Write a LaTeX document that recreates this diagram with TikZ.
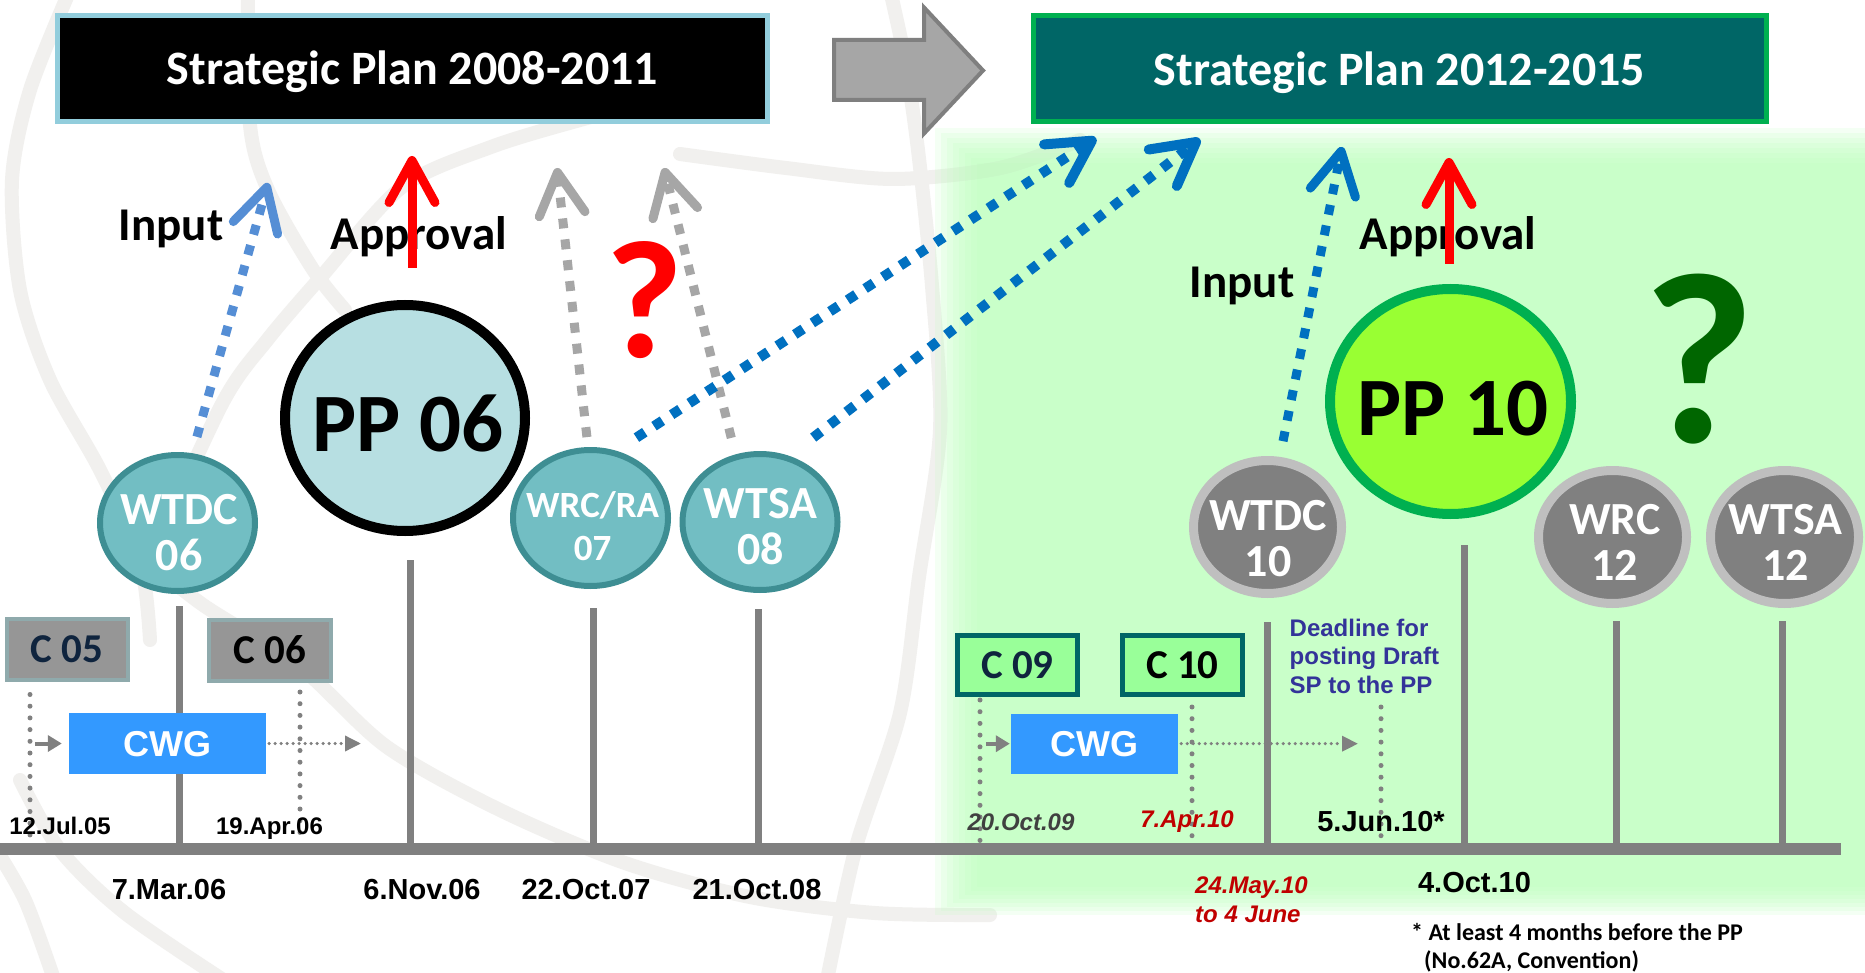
\documentclass[tikz,border=0pt]{standalone}
\usepackage{fontspec}
\setmainfont{Carlito}
\newfontfamily\arialfont{Liberation Sans}
\usepackage{xcolor}
\usepackage{tikz}
\usetikzlibrary{arrows.meta, shapes.geometric, calc}

\definecolor{wmgray}{RGB}{241,240,238}
\definecolor{bggreen}{RGB}{187,255,187}
\definecolor{tealfill}{RGB}{114,190,195}
\definecolor{tealline}{RGB}{62,142,147}
\definecolor{ppblue}{RGB}{183,223,226}
\definecolor{spblue}{RGB}{146,205,220}
\definecolor{spteal}{RGB}{0,102,102}
\definecolor{spgreen}{RGB}{0,176,80}
\definecolor{blockgray}{RGB}{166,166,166}
\definecolor{blockline}{RGB}{127,127,127}
\definecolor{inblue}{RGB}{85,142,213}
\definecolor{darkblue}{RGB}{0,112,192}
\definecolor{stemgray}{RGB}{128,128,128}
\definecolor{limegreen}{RGB}{153,255,51}
\definecolor{qgreen}{RGB}{0,102,0}
\definecolor{ringgray}{RGB}{191,191,191}
\definecolor{cgray}{RGB}{150,150,150}
\definecolor{cgrayline}{RGB}{143,170,172}
\definecolor{cnavy}{RGB}{15,36,62}
\definecolor{cgreen}{RGB}{153,255,153}
\definecolor{cwgblue}{RGB}{51,153,255}
\definecolor{deadblue}{RGB}{51,51,153}
\definecolor{darkred}{RGB}{192,0,0}
\definecolor{dategray}{RGB}{64,64,64}

\begin{document}
\begin{tikzpicture}[x=1pt, y=-1pt,
    plan/.style={draw, line width=5pt, minimum width=710pt, minimum height=106pt, text=white,
      font=\bfseries\fontsize{48}{58}\selectfont, text height=34pt, text depth=1.4pt},
    tealcirc/.style={ellipse, draw=tealline, fill=tealfill, line width=6pt,
      minimum width=155pt, minimum height=136pt},
    graycirc/.style={ellipse, draw=ringgray, fill=stemgray, line width=9pt,
      minimum width=148pt, minimum height=133pt},
    ppcirc/.style={ellipse, line width=10pt, minimum width=240pt, minimum height=226pt},
    pplabel/.style={font=\bfseries\fontsize{83}{90}\selectfont, anchor=base, inner sep=0pt},
    circtext/.style={align=center, text=white, inner sep=0pt,
      font=\bfseries\fontsize{46}{45.5}\selectfont},
    cbox/.style={draw, line width=4pt, minimum width=121pt, minimum height=61pt,
      font=\bfseries\fontsize{41}{45}\selectfont, text height=26.4pt, text depth=0pt},
    cwg/.style={fill=cwgblue, text=white, minimum width=197pt, minimum height=61pt,
      font=\arialfont\bfseries\fontsize{36}{40}\selectfont, text height=25.8pt, text depth=0pt},
    date/.style={font=\arialfont\bfseries\fontsize{29}{32}\selectfont, anchor=base, inner sep=0pt},
    smalldate/.style={date, font=\arialfont\bfseries\fontsize{24}{28}\selectfont},
    itdate/.style={date, font=\arialfont\bfseries\itshape\fontsize{24}{28}\selectfont},
    note/.style={anchor=base west, inner sep=0pt, font=\bfseries\fontsize{24}{28}\selectfont},
    word/.style={font=\bfseries\fontsize{47}{52}\selectfont, anchor=base, inner sep=0pt},
    qmark/.style={font=\bfseries\fontsize{168}{170}\selectfont, anchor=base, inner sep=0pt},
    stem/.style={draw=stemgray, line width=7pt},
    datedots/.style={draw=stemgray, line width=5pt, line cap=round, dash pattern=on 0pt off 11.7pt},
    feed/.style={draw=stemgray, line width=4pt, -{Triangle[length=14pt,width=16pt]}},
    flow/.style={draw=stemgray, line width=3.5pt, line cap=round, dash pattern=on 0pt off 6pt,
      -{Triangle[length=16pt,width=15pt]}},
    barb/.style={-{Straight Barb[length=42pt,width=46pt,round]}},
    dotarrow/.style={barb, line width=9pt, dash pattern=on 10pt off 11pt},
    approve/.style={barb, draw=red, line width=9pt}]

  \useasboundingbox (0,0) rectangle (1865,973);
  \fill[white] (0,0) rectangle (1865,973);

  % watermark
  \begin{scope}[wmgray, line width=14pt, line cap=round]
    \draw plot[smooth] coordinates {(70,-10) (30,90) (12,180) (20,290) (50,380) (100,470) (140,560) (150,640)};
    \draw plot[smooth] coordinates {(248,-10) (250,125) (268,190) (312,268) (345,310)};
    \draw plot[smooth] coordinates {(150,560) (223,402) (268,339) (321,277) (402,187) (491,147) (580,120) (660,100) (760,90)};
    \draw plot[smooth] coordinates {(890,-10) (905,60) (918,150) (932,286) (940,430) (919,577) (900,713) (856,847) (825,990)};
    \draw plot[smooth] coordinates {(680,154) (786,168) (893,179) (1000,168) (1080,140)};
    \draw plot[smooth] coordinates {(165,575) (206,607) (300,667) (387,747) (500,810) (625,863) (750,897) (875,913) (990,915)};
    \draw plot[smooth] coordinates {(-10,840) (25,900) (56,985)};
    \draw plot[smooth] coordinates {(231,985) (125,913) (60,850) (20,780)};
  \end{scope}

  % green background
  \foreach \i in {0,...,7}
    \fill[bggreen, opacity=0.16] (935+6*\i,128+5*\i) rectangle (1865,915-4*\i);

  % strategic plans
  \node[plan, draw=spblue, fill=black] (sp08) at (412.5,68.7) {Strategic Plan 2008-2011};
  \node[plan, draw=spgreen, fill=spteal, minimum width=733pt] (sp12) at (1399.5,68.8) {Strategic Plan 2012-2015};
  \draw[fill=blockgray, draw=blockline, line width=4pt]
    (834,40) -- (924,40) -- (924,7.5) -- (983,70.5) -- (924,133.5) -- (924,100) -- (834,100) -- cycle;

  % conferences
  \node[tealcirc] (wtdc06) at (177.5,523) {};
  \node[ppcirc, draw=black, fill=ppblue] (pp06) at (405,418) {};
  \node[tealcirc] (wrcra07) at (590.5,518) {};
  \node[tealcirc] (wtsa08) at (760,522) {};
  \node[graycirc] (wtdc10) at (1267.5,527) {};
  \node[ppcirc, draw=spgreen, fill=limegreen, minimum width=241pt, minimum height=225pt] (pp10) at (1450.5,401.5) {};
  \node[graycirc] (wrc12) at (1612.5,537) {};
  \node[graycirc] (wtsa12) at (1784.5,537) {};

  \node[circtext] (wtdc06-t) at (179,532.5) {WTDC\\06};
  \node[circtext, font=\bfseries\fontsize{37}{43.4}\selectfont] (wrcra07-t) at (592.6,526) {WRC/RA\\07};
  \node[circtext] (wtsa08-t) at (760.5,526.5) {WTSA\\08};
  \node[circtext] (wtdc10-t) at (1268,538.5) {WTDC\\10};
  \node[circtext] (wrc12-t) at (1614.8,542.5) {WRC\\12};
  \node[circtext] (wtsa12-t) at (1785.5,542.5) {WTSA\\12};
  \node[pplabel] (pp06-t) at (408,451) {PP 06};
  \node[pplabel] (pp10-t) at (1453,435) {PP 10};

  % timeline
  \coordinate (barL) at (0,849);
  \coordinate (barR) at (1841,849);
  \foreach \nd/\gap/\sh in {wtdc06/12/1.5, pp06/24/5, wrcra07/19/2.5, wtsa08/16/-2, wtdc10/24/0, pp10/26/13.5, wrc12/13/3.5, wtsa12/13/-2.5}
    \draw[stem] let \p1=(\nd.south), \p2=(barL) in (\x1+\sh pt,\y1-\gap pt) -- (\x1+\sh pt,\y2);
  \draw[stemgray, line width=12pt] (barL) -- (barR);

  % council and working group
  \node[cbox, draw=cgrayline, fill=cgray, text=cnavy] (c05) at (67.25,649) {C 05};
  \node[cbox, draw=cgrayline, fill=cgray, minimum width=121.6pt] (c06) at (269.8,650.5) {C 06};
  \node[cbox, draw=spteal, fill=cgreen, text=cnavy, line width=5pt, minimum width=120pt, minimum height=59pt] (c09) at (1017.5,665) {C 09};
  \node[cbox, draw=spteal, fill=cgreen, line width=5pt, minimum width=120pt, minimum height=59pt] (c10) at (1182.5,665) {C 10};
  \node[cwg] (cwgL) at (167.5,743.5) {CWG};
  \node[cwg, minimum width=167pt, minimum height=60pt] (cwgR) at (1094.5,743.7) {CWG};

  \coordinate (d1) at (30,849);
  \coordinate (d2) at (300,849);
  \coordinate (d3) at (980,849);
  \coordinate (d4) at (1192,849);
  \coordinate (d5) at (1381,849);
  \draw[datedots, shorten <=13pt, shorten >=8pt] (d1 |- c05.south) -- (d1);
  \draw[datedots, shorten <=9pt, shorten >=8pt] (d2 |- c06.south) -- (d2);
  \draw[datedots, shorten <=3pt, shorten >=8pt] (d3 |- c09.south) -- (d3);
  \draw[datedots, shorten <=10pt, shorten >=8pt] (d4 |- c10.south) -- (d4);
  \draw[datedots, shorten <=10pt, shorten >=8pt] (d5 |- c10.south) -- (d5);

  \coordinate (cwgLto) at (361,743.5);
  \coordinate (cwgRto) at (1358,743.7);
  \draw[feed, shorten <=5pt, shorten >=7pt] (d1 |- cwgL) -- (cwgL.west);
  \draw[feed, shorten <=6pt, shorten >=1pt] (d3 |- cwgR) -- (cwgR.west);
  \draw[flow, shorten <=3pt] (cwgL.east) -- (cwgLto);
  \draw[flow, shorten <=3pt] (cwgR.east) -- (cwgRto);

  % dates
  \node[smalldate] (jul05) at (60,834.6) {12.Jul.05};
  \node[smalldate] (apr06) at (269.5,834.6) {19.Apr.06};
  \node[date] (mar06) at (169,899) {7.Mar.06};
  \node[date] (nov06) at (422,899) {6.Nov.06};
  \node[date] (oct07) at (586,899) {22.Oct.07};
  \node[date] (oct08) at (757,899) {21.Oct.08};
  \node[itdate, text=dategray] (oct09) at (1021,830.6) {20.Oct.09};
  \node[itdate, text=darkred] (apr10) at (1187,827.6) {7.Apr.10};
  \node[date] (jun10) at (1381,831.4) {5.Jun.10*};
  \node[date] (oct10) at (1474.5,892.4) {4.Oct.10};
  \node[itdate, text=darkred, anchor=base west] (may10) at (1195,893.6) {24.May.10};
  \node[itdate, text=darkred, anchor=base west] (june10) at (1195,922.6) {to 4 June};
  \node[align=left, anchor=west, inner sep=0pt, text=deadblue,
    font=\arialfont\bfseries\fontsize{24}{28.3}\selectfont] (deadline) at (1289.5,656.2)
    {Deadline for\\posting Draft\\SP to the PP};
  \node[note] (note) at (1411,940.5) {* At least 4 months before the PP};
  \node[note] (note2) at (1424,968) {(No.62A, Convention)};

  % labels
  \node[word] (inputL) at (171,241) {Input};
  \node[word] (approvalL) at (419,250) {Approval};
  \node[word] (inputR) at (1242,298) {Input};
  \node[word] (approvalR) at (1448,250) {Approval};
  \node[qmark, text=red] (askL) at (644.5,357) {?};
  \node[qmark, text=qgreen, font=\bfseries\fontsize{244}{250}\selectfont] (askR) at (1699,442) {?};

  % arrows
  \coordinate (inL) at (268,183);
  \coordinate (upA) at (557,168);
  \coordinate (upB) at (664,168);
  \coordinate (toSPa) at (1096,138);
  \coordinate (toSPb) at (1200,139);
  \coordinate (inR) at (1342,147);
  \coordinate (apL) at (412,156);
  \coordinate (apR) at (1449,158);
  \draw[dotarrow, inblue, shorten <=17pt] (wtdc06.78) -- (inL);
  \draw[dotarrow, blockgray, shorten <=10pt] (wrcra07.92) -- (upA);
  \draw[dotarrow, blockgray, shorten <=17pt] (wtsa08.110) -- (upB);
  \draw[dotarrow, darkblue, line width=10pt, shorten <=24pt] (wrcra07.69) -- (toSPa);
  \draw[dotarrow, darkblue, line width=10pt, shorten <=30pt] (wtsa08.66) -- (toSPb);
  \draw[dotarrow, darkblue, shorten <=16pt] (wtdc10.80) -- (inR);
  \draw[approve, shorten <=32pt] (apL |- pp06.north) -- (apL);
  \draw[approve, shorten <=20pt] (apR |- pp10.north) -- (apR);
\end{tikzpicture}
\end{document}
